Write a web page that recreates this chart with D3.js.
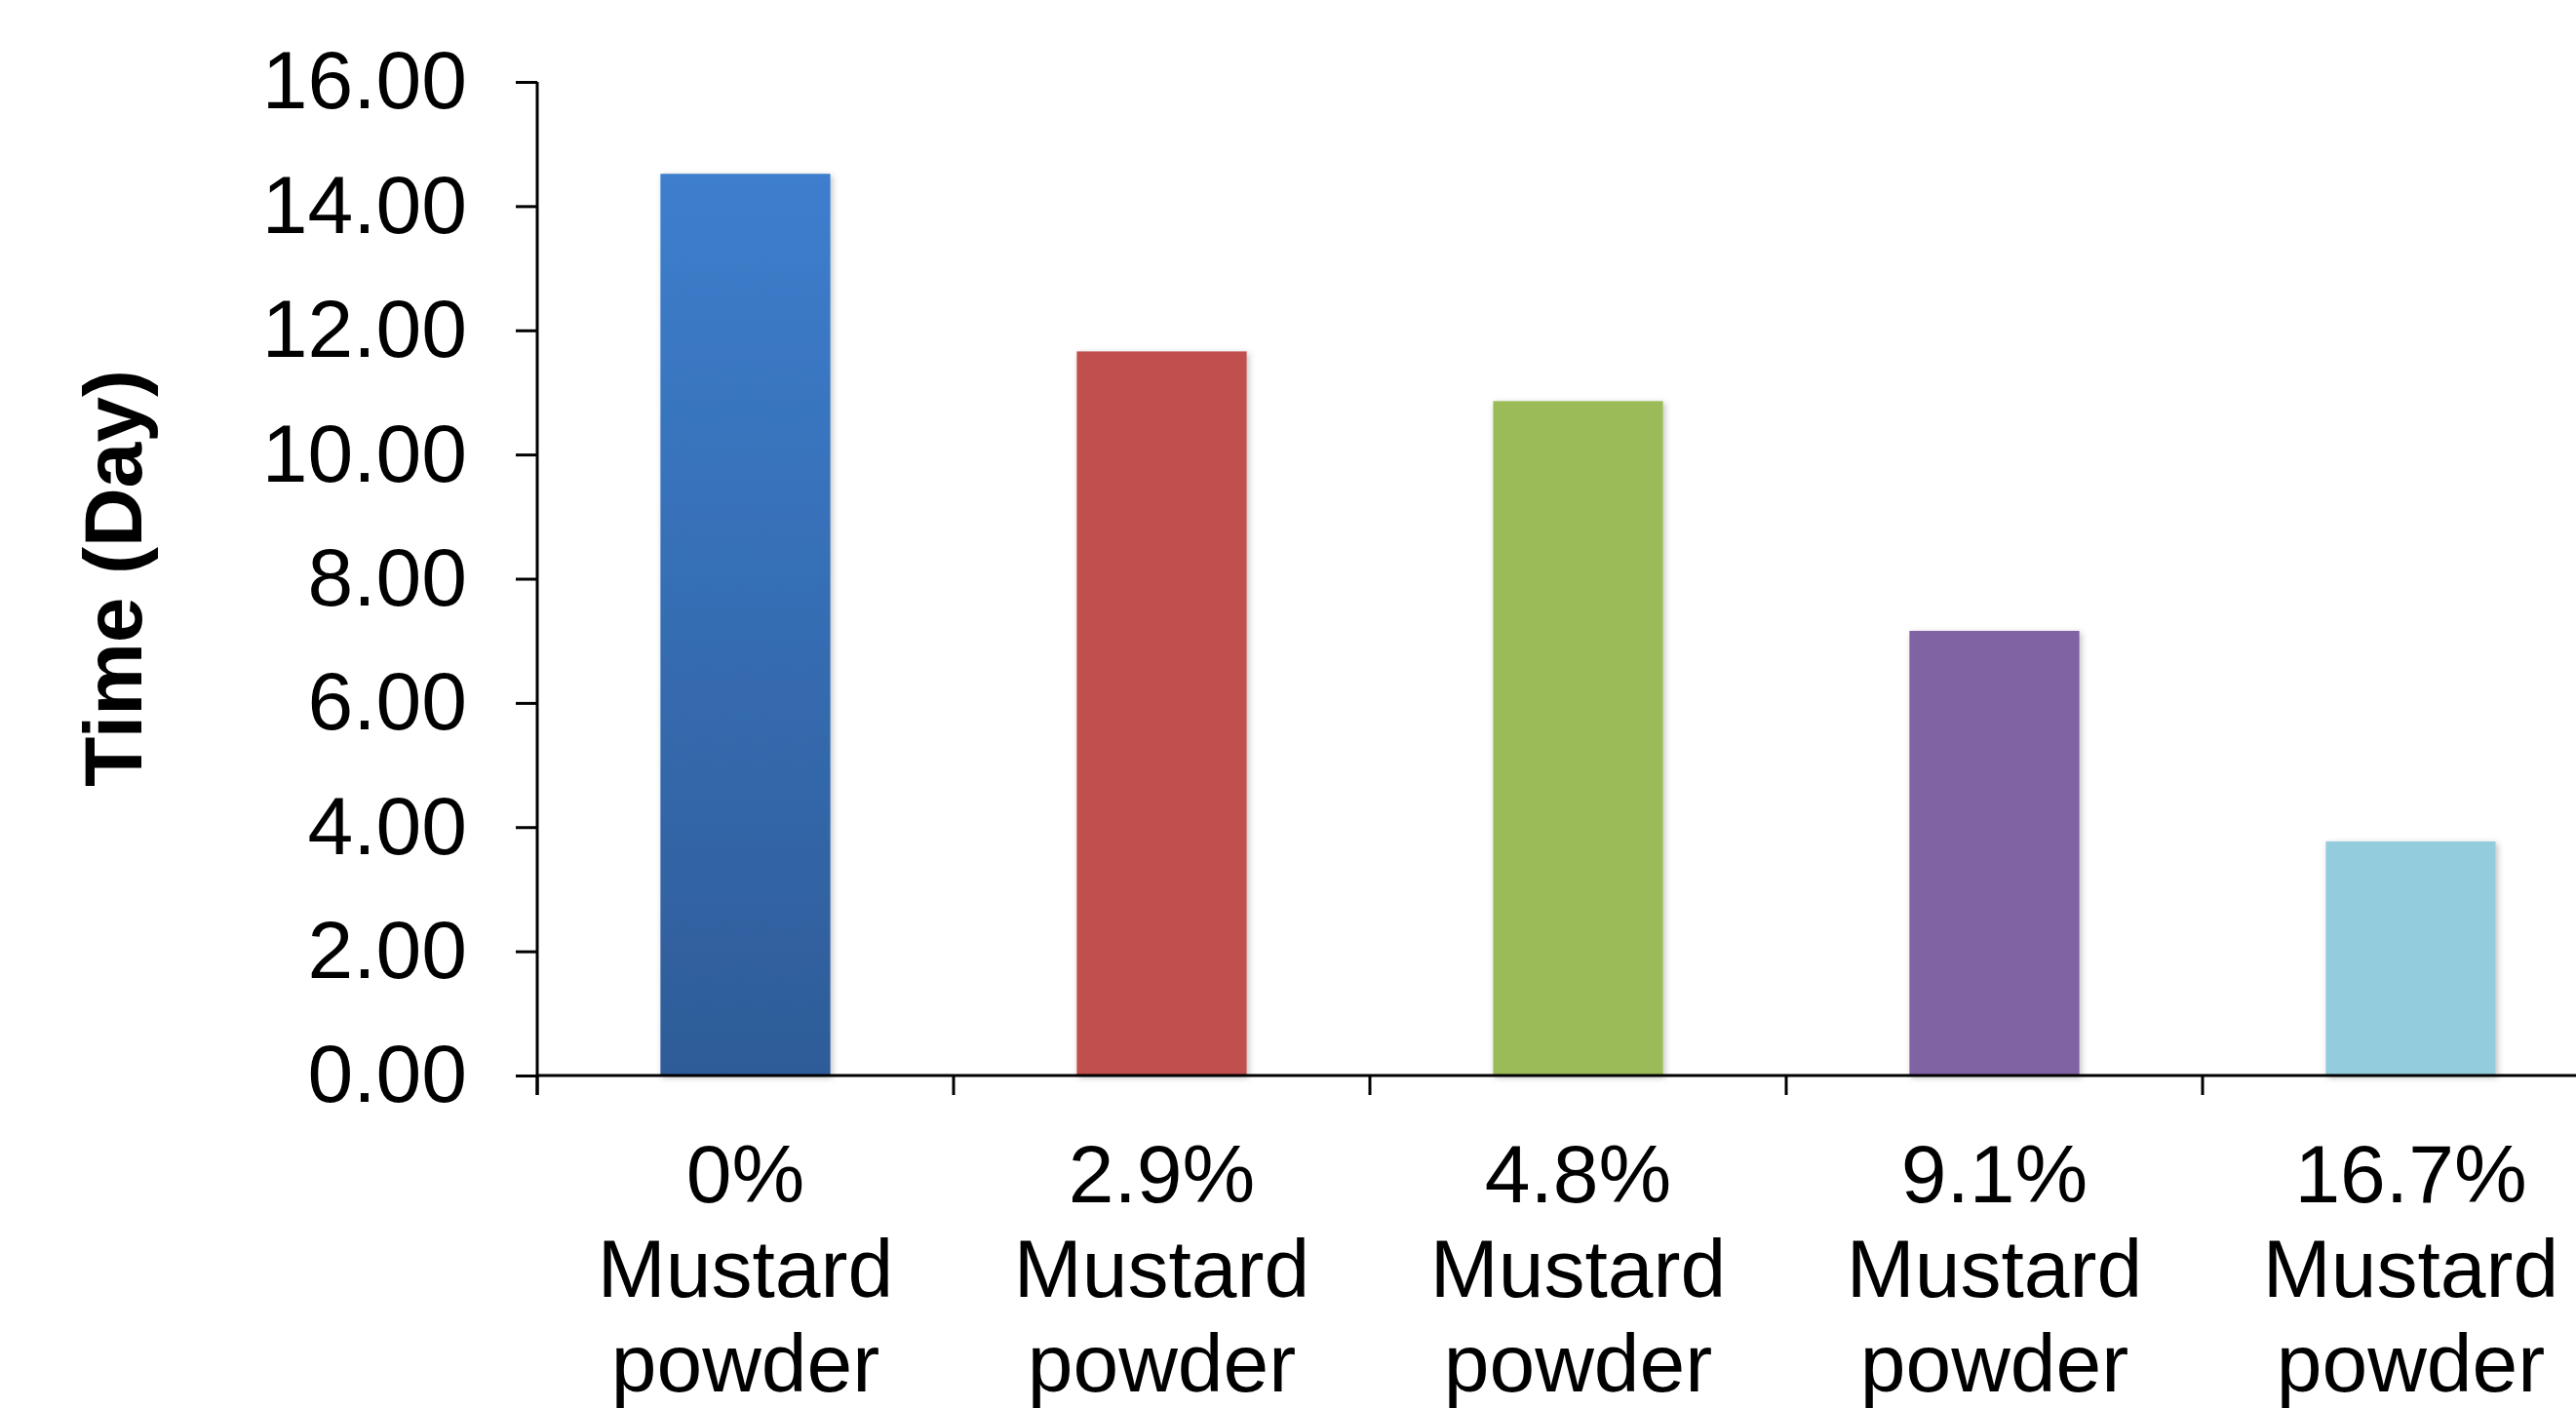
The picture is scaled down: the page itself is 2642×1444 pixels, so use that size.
<!DOCTYPE html>
<meta charset="utf-8">
<style>
  body { margin: 0; background: #fff; }
  svg { display: block; }
  text { font-family: "Liberation Sans", Arial, sans-serif; fill: #000; }
  .axis path, .axis line { stroke: #000; stroke-width: 3; }
  .axis text { font-size: 84px; }
  .cat { font-size: 84px; }
  .ylab { font-size: 84px; font-weight: bold; }
</style>
<body>
<script src="https://d3js.org/d3.v7.min.js"></script>
<script>
// data
var pctLabels = ["0%", "2.9%", "4.8%", "9.1%", "16.7%"];
var catLine2 = ["Mustard", "Mustard", "Mustard", "Mustard", "Mustard"];
var catLine3 = ["powder", "powder", "powder", "powder", "powder"];
var days = [14.52, 11.66, 10.86, 7.16, 3.77];
var barColors = ["url(#blueGrad)", "#C0504D", "#9BBB59", "#8064A2", "#93CDDD"];
var yTicks = [0, 2, 4, 6, 8, 10, 12, 14, 16];

var width = 2642, height = 1444;
var plotLeft = 551, plotTop = 84, plotBottom = 1103, step = 427;

var svg = d3.select("body").append("svg")
    .attr("width", width)
    .attr("height", height);

var defs = svg.append("defs");
var grad = defs.append("linearGradient")
    .attr("id", "blueGrad")
    .attr("x1", 0).attr("y1", 0).attr("x2", 0).attr("y2", 1);
grad.append("stop").attr("offset", "0%").attr("stop-color", "#3D7ECD");
grad.append("stop").attr("offset", "100%").attr("stop-color", "#2E5C98");

var shadow = defs.append("filter").attr("id", "shadow")
    .attr("x", "-10%").attr("y", "-10%").attr("width", "130%").attr("height", "120%");
shadow.append("feDropShadow")
    .attr("dx", 2).attr("dy", 2).attr("stdDeviation", 3)
    .attr("flood-color", "#000").attr("flood-opacity", 0.25);

var x = d3.scaleBand()
    .domain(pctLabels)
    .range([plotLeft, plotLeft + step * pctLabels.length])
    .padding(0);

var y = d3.scaleLinear()
    .domain([0, 16])
    .range([plotBottom, plotTop]);

// bars
var barW = x.bandwidth() * 0.408;
svg.append("g").selectAll("rect")
    .data(days)
  .enter().append("rect")
    .attr("x", function(d, i) { return x(pctLabels[i]) + (x.bandwidth() - barW) / 2; })
    .attr("y", function(d) { return y(d); })
    .attr("width", barW)
    .attr("height", function(d) { return y(0) - y(d); })
    .attr("fill", function(d, i) { return barColors[i]; })
    .attr("filter", "url(#shadow)");

// y axis
var yAxis = svg.append("g")
    .attr("class", "axis")
    .attr("transform", "translate(" + plotLeft + ",0)")
    .call(d3.axisLeft(y)
      .tickValues(yTicks)
      .tickFormat(d3.format(".2f"))
      .tickSize(22)
      .tickSizeOuter(0)
      .tickPadding(50));
yAxis.select(".domain").attr("d", "M0," + y(16) + "V" + (y(0) + 20));

// x axis: line plus ticks at category boundaries
var xAxis = svg.append("g").attr("class", "axis");
xAxis.append("path")
    .attr("d", "M" + plotLeft + "," + y(0) + "H" + width)
    .attr("fill", "none");
var bounds = pctLabels.map(function(c) { return x(c); }).concat([x.range()[1]]);
xAxis.selectAll("line.tk")
    .data(bounds)
  .enter().append("line")
    .attr("class", "tk")
    .attr("x1", function(d) { return d; })
    .attr("x2", function(d) { return d; })
    .attr("y1", y(0))
    .attr("y2", y(0) + 20);

// category labels
var lab = svg.append("g").selectAll("text")
    .data(pctLabels)
  .enter().append("text")
    .attr("class", "cat")
    .attr("text-anchor", "middle")
    .attr("x", function(d) { return x(d) + x.bandwidth() / 2; })
    .attr("y", 1233);
lab.append("tspan").text(function(d) { return d; });
lab.append("tspan")
    .attr("x", function(d) { return x(d) + x.bandwidth() / 2; })
    .attr("dy", 97)
    .text(function(d, i) { return catLine2[i]; });
lab.append("tspan")
    .attr("x", function(d) { return x(d) + x.bandwidth() / 2; })
    .attr("dy", 97)
    .text(function(d, i) { return catLine3[i]; });

// y label
svg.append("text")
    .attr("class", "ylab")
    .attr("text-anchor", "middle")
    .attr("transform", "translate(145,593) rotate(-90)")
    .text("Time (Day)");
</script>
</body>
</html>
